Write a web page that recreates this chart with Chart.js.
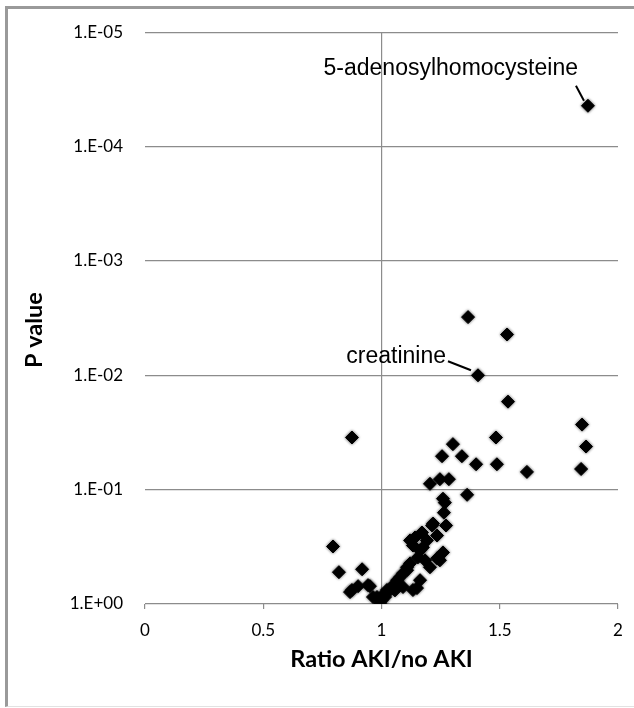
<!DOCTYPE html>
<html>
<head>
<meta charset="utf-8">
<script src="https://cdn.jsdelivr.net/npm/chart.js@4.4.1/dist/chart.umd.min.js"></script>
<style>
  body { margin: 0; background: #fff; }
  #wrap { position: relative; width: 634px; height: 708px; overflow: hidden; }
  #frame { position: absolute; left: 5px; top: 6px; width: 700px; height: 697px;
           border-left: 3px solid #9a9a9a; border-top: 3px solid #9a9a9a; border-bottom: 1px solid #e2e2e2; }
  canvas { position: absolute; left: 0; top: 0; }
</style>
</head>
<body>
<div id="wrap">
  <div id="frame"></div>
  <canvas id="mycanvas" width="634" height="708"></canvas>
</div>
<script>
// ratio AKI / no AKI (x) and P value (y)
var ratio = [1.873, 1.366, 1.531, 1.408, 1.535, 1.848, 1.865, 1.844, 0.875, 1.484,
             1.302, 1.256, 1.340, 1.400, 1.488, 1.615, 1.205, 1.247, 1.285, 1.362,
             1.260, 1.264, 1.273, 1.214, 1.171, 1.235, 1.121, 1.142, 1.133, 1.175,
             1.260, 1.247, 1.205, 0.795, 0.820, 0.918, 0.875, 0.901, 0.867, 0.951,
             0.981, 0.994, 1.015, 1.036, 1.066, 1.078, 1.108, 1.121, 1.133, 1.091,
             1.154, 1.163, 1.192, 1.218, 1.268, 1.235, 1.150, 1.163, 1.108, 0.964,
             1.023, 1.091, 0.943, 1.002, 1.049, 1.006, 1.057, 1.184];
var pValue = [4.4e-5, 3.1e-3, 4.4e-3, 1.0e-2, 1.7e-2, 2.7e-2, 4.2e-2, 6.6e-2, 3.5e-2, 3.5e-2,
              4.0e-2, 5.1e-2, 5.1e-2, 6.0e-2, 6.0e-2, 7.0e-2, 8.9e-2, 8.1e-2, 8.1e-2, 0.111,
              0.120, 0.159, 0.206, 0.206, 0.237, 0.252, 0.278, 0.262, 0.308, 0.320,
              0.354, 0.415, 0.477, 0.314, 0.527, 0.497, 0.755, 0.698, 0.787, 0.698,
              0.869, 0.98, 0.869, 0.755, 0.619, 0.583, 0.507, 0.441, 0.755, 0.711,
              0.391, 0.340, 0.278, 0.198, 0.130, 0.399, 0.726, 0.619, 0.477, 0.869,
              0.755, 0.538, 0.684, 0.92, 0.684, 0.836, 0.76, 0.415];

var yTicks = [1e-5, 1e-4, 1e-3, 1e-2, 1e-1, 1];
var yTickLabels = ['1.E-05', '1.E-04', '1.E-03', '1.E-02', '1.E-01', '1.E+00'];
var xTicks = [0, 0.5, 1, 1.5, 2];

var xTitle = 'Ratio AKI/no AKI';
var yTitle = 'P value';

// labelled points
var noteText = ['5-adenosylhomocysteine', 'creatinine'];
var noteIndex = [0, 3];

var points = [];
for (var i in ratio) {
    points.push({ x: ratio[i], y: pValue[i] });
}

var gridGray = '#8c8c8c';

var notes = {
    id: 'notes',
    afterDatasetsDraw: function(chart) {
        var ctx = chart.ctx;
        var meta = chart.getDatasetMeta(0);
        // text offset, leader line start, leader line end (relative to the point)
        var offs = [
            { tx: -10, ty: -37, x1: -12, y1: -20, x2: -4, y2: -5 },
            { tx: -32, ty: -19, x1: -30, y1: -14, x2: -7, y2: -5 }
        ];
        ctx.save();
        ctx.font = '23px "Liberation Sans", Arial, sans-serif';
        ctx.fillStyle = '#000';
        ctx.strokeStyle = '#000';
        ctx.lineWidth = 2;
        ctx.textAlign = 'right';
        ctx.textBaseline = 'middle';
        for (var k = 0; k < noteText.length; k++) {
            var pt = meta.data[noteIndex[k]];
            var o = offs[k];
            ctx.fillText(noteText[k], pt.x + o.tx, pt.y + o.ty);
            ctx.beginPath();
            ctx.moveTo(pt.x + o.x1, pt.y + o.y1);
            ctx.lineTo(pt.x + o.x2, pt.y + o.y2);
            ctx.stroke();
        }
        ctx.restore();
    }
};

// y title sits a little below the middle of the axis in the original
var yTitlePlugin = {
    id: 'yTitle',
    afterDraw: function(chart) {
        var ctx = chart.ctx;
        var area = chart.chartArea;
        ctx.save();
        ctx.translate(34, (area.top + area.bottom) / 2 + 12);
        ctx.rotate(-Math.PI / 2);
        ctx.font = 'bold 23.5px Lato';
        ctx.fillStyle = '#000';
        ctx.textAlign = 'center';
        ctx.textBaseline = 'middle';
        ctx.fillText(yTitle, 0, 0);
        ctx.restore();
    }
};

var softMarks = {
    id: 'softMarks',
    beforeDatasetsDraw: function(chart) {
        chart.ctx.save();
        chart.ctx.shadowColor = 'rgba(0,0,0,0.6)';
        chart.ctx.shadowBlur = 3;
    },
    afterDatasetsDraw: function(chart) {
        chart.ctx.restore();
    }
};

var ctx = document.getElementById('mycanvas');
var scatterChart = new Chart(ctx, {
    type: 'scatter',
    data: {
        datasets: [{
            data: points,
            pointStyle: 'rectRot',
            pointRadius: 6.5,
            pointHoverRadius: 6.5,
            backgroundColor: '#000',
            borderColor: '#000',
            borderWidth: 1
        }]
    },
    options: {
        responsive: false,
        animation: false,
        layout: { padding: { top: 28, right: 16, left: 0, bottom: 0 } },
        plugins: {
            legend: { display: false },
            tooltip: { enabled: false }
        },
        scales: {
            x: {
                type: 'linear',
                min: 0,
                max: 2,
                afterBuildTicks: function(scale) {
                    scale.ticks = xTicks.map(function(v) { return { value: v }; });
                },
                afterFit: function(scale) { scale.height = 104; },
                border: { display: false },
                grid: {
                    color: function(c) { return c.tick && c.tick.value === 1 ? gridGray : 'rgba(0,0,0,0)'; },
                    tickColor: gridGray,
                    tickLength: 5,
                    lineWidth: 1.2
                },
                ticks: {
                    padding: 11,
                    color: '#000',
                    font: { family: 'Lato', size: 17 },
                    callback: function(v) { return String(v); }
                },
                title: {
                    display: true,
                    text: xTitle,
                    color: '#000',
                    font: { family: 'Lato', size: 23.5, weight: 'bold' },
                    padding: { top: 0, bottom: 34 }
                }
            },
            y: {
                type: 'logarithmic',
                reverse: true,
                min: 1e-5,
                max: 1,
                afterBuildTicks: function(scale) {
                    scale.ticks = yTicks.map(function(v) { return { value: v }; });
                },
                afterFit: function(scale) { scale.width = 145; },
                border: { display: false },
                grid: {
                    color: gridGray,
                    lineWidth: 1.2,
                    drawTicks: false
                },
                ticks: {
                    padding: 22,
                    color: '#000',
                    font: { family: 'Lato', size: 17 },
                    callback: function(v, idx) { return yTickLabels[idx]; }
                }
            }
        }
    },
    plugins: [softMarks, notes, yTitlePlugin]
});
</script>
</body>
</html>
